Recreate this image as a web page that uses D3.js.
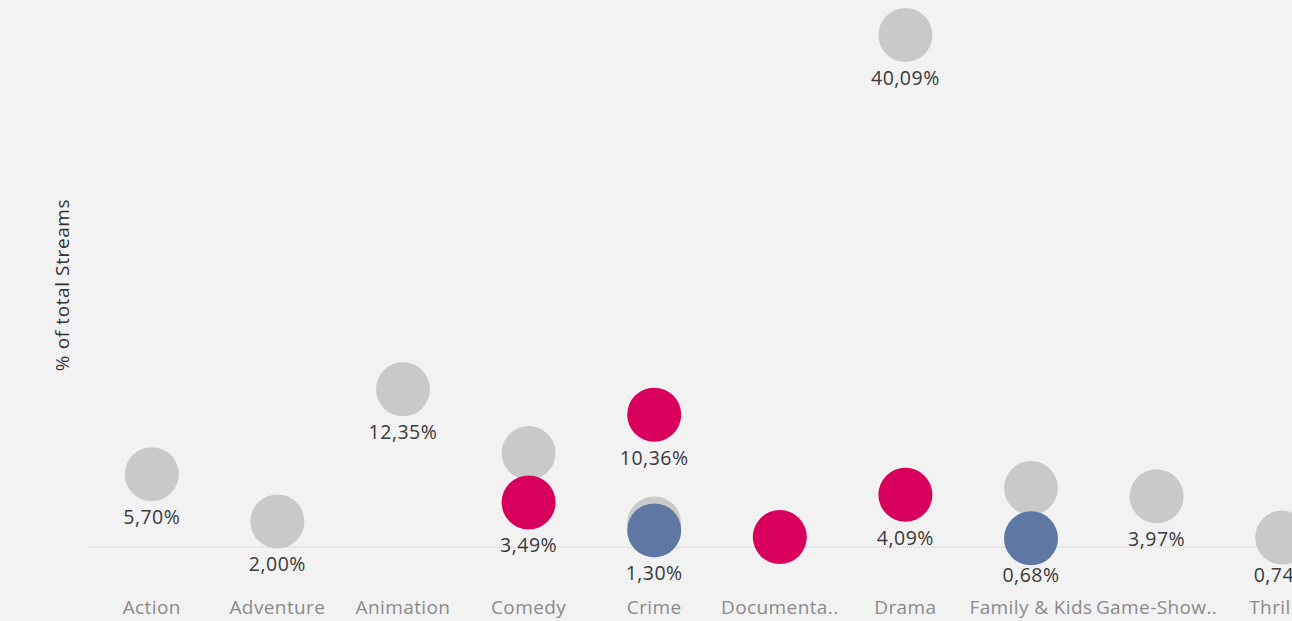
<!DOCTYPE html>
<html>
<head>
<meta charset="utf-8">
<script src="https://cdn.jsdelivr.net/npm/d3@7"></script>
<style>
  html, body { margin: 0; padding: 0; background: #f2f2f2; overflow: hidden; }
  svg { display: block; }
</style>
</head>
<body>
<svg id="chart" width="1292" height="621"></svg>
<script>
// Genres on the x axis
const categories = ["Action", "Adventure", "Animation", "Comedy", "Crime",
  "Documenta..", "Drama", "Family & Kids", "Game-Show..", "Thriller"];

// % of total streams per genre, one array per series (null = no mark)
const totalShare  = [5.70, 2.00, 12.35, 7.36, 1.85, null, 40.09, 4.62, 3.97, 0.74];
const pinkShare   = [null, null, null, 3.49, 10.36, 0.78, 4.09, null, null, null];
const blueShare   = [null, null, null, null, 1.30, null, null, 0.68, null, null];

// Which marks carry a value label
const totalLabeled = [true, true, true, false, false, false, true, false, true, true];
const pinkLabeled  = [false, false, false, true, true, false, true, false, false, false];
const blueLabeled  = [false, false, false, false, true, false, false, true, false, false];

const series = [
  { values: totalShare, labeled: totalLabeled, color: "#c9c9c9" },
  { values: pinkShare,  labeled: pinkLabeled,  color: "#d8005c" },
  { values: blueShare,  labeled: blueLabeled,  color: "#5f77a3" }
];

const svg = d3.select("#chart");
const font = "'Open Sans', sans-serif";
const r = 27;

const x = d3.scaleBand().domain(categories).range([89, 1345]).padding(0);
const y = d3.scaleLinear().domain([0, 40]).range([547, 36.2]);

const fmt = v => d3.format(".2f")(v).replace(".", ",") + "%";

// zero line
svg.append("line")
  .attr("x1", 89).attr("x2", 1292)
  .attr("y1", y(0)).attr("y2", y(0))
  .attr("stroke", "#c8c8c8").attr("stroke-width", 1)
  .attr("stroke-dasharray", "1,1");

// circles
series.forEach(s => {
  const pts = categories.map((c, i) => ({ c, v: s.values[i] })).filter(d => d.v != null);
  svg.append("g").selectAll("circle").data(pts).join("circle")
    .attr("cx", d => x(d.c) + x.bandwidth() / 2)
    .attr("cy", d => y(d.v))
    .attr("r", r)
    .attr("fill", s.color);
});

// value labels (kept above the category axis labels)
const labelFloor = 582;
series.forEach(s => {
  const pts = categories.map((c, i) => ({ c, v: s.values[i], show: s.labeled[i] }))
    .filter(d => d.v != null && d.show);
  svg.append("g").selectAll("text").data(pts).join("text")
    .attr("x", d => x(d.c) + x.bandwidth() / 2)
    .attr("y", d => Math.min(y(d.v) + r + 23, labelFloor))
    .attr("text-anchor", "middle")
    .attr("font-family", font)
    .attr("font-size", 19.5)
    .attr("letter-spacing", 0.5)
    .attr("fill", "#3a3a3a")
    .text(d => fmt(d.v));
});

// category axis
const xAxis = svg.append("g");
xAxis.selectAll("text").data(categories).join("text")
  .attr("x", d => x(d) + x.bandwidth() / 2)
  .attr("y", 614)
  .attr("text-anchor", "middle")
  .attr("font-family", font)
  .attr("font-size", 19)
  .attr("letter-spacing", 0.4)
  .attr("fill", "#8a8a8a")
  .text(d => d);

// y axis title
svg.append("text")
  .attr("transform", "translate(69,285) rotate(-90)")
  .attr("text-anchor", "middle")
  .attr("font-family", font)
  .attr("font-size", 19)
  .attr("letter-spacing", 0.6)
  .attr("fill", "#333")
  .text("% of total Streams");
</script>
</body>
</html>
